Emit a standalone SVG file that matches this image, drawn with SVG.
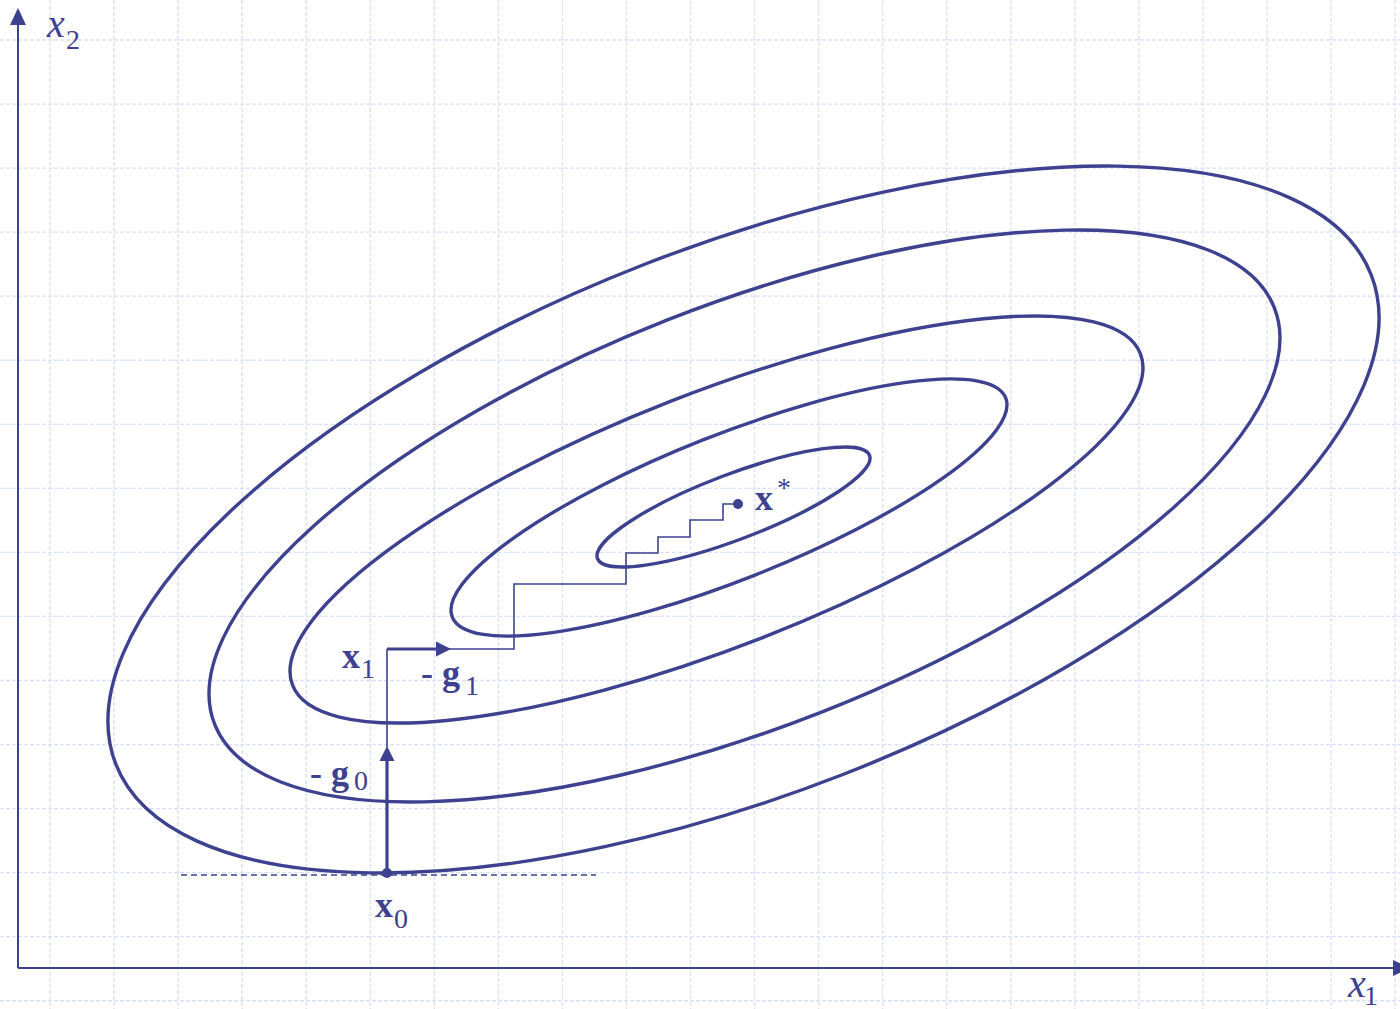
<svg xmlns="http://www.w3.org/2000/svg" width="1400" height="1009" viewBox="0 0 1400 1009">
<defs>
<style>
.grid{stroke:#d9e0f7;stroke-width:1.3;stroke-dasharray:4 2;fill:none}
.axis{stroke:#3d418f;stroke-width:2;fill:none}
.contour{stroke:#3d418f;stroke-width:3.4;fill:none}
.thin{stroke:#3d418f;stroke-width:1.6;fill:none}
.thick{stroke:#3d418f;stroke-width:3.2;fill:none}
.dash{stroke:#3d418f;stroke-width:1.5;stroke-dasharray:6 4;fill:none}
.head{fill:#3d418f}
text{font-family:'Liberation Serif','Times New Roman',Tinos,serif;fill:#3d418f}
.it{font-style:italic;font-size:40px}
.bd{font-weight:bold;font-size:36px}
.sub{font-size:28px}
</style>
</defs>
<rect width="1400" height="1009" fill="#ffffff"/>
<g id="grid">
<path class="grid" d="M50 0V1009M114.05 0V1009M178.1 0V1009M242.15 0V1009M306.2 0V1009M370.25 0V1009M434.3 0V1009M498.35 0V1009M562.4 0V1009M626.45 0V1009M690.5 0V1009M754.55 0V1009M818.6 0V1009M882.65 0V1009M946.7 0V1009M1010.75 0V1009M1074.8 0V1009M1138.85 0V1009M1202.9 0V1009M1266.95 0V1009M1331 0V1009M1395.05 0V1009"/>
<path class="grid" d="M0 40H1400M0 104.05H1400M0 168.1H1400M0 232.15H1400M0 296.2H1400M0 360.25H1400M0 424.3H1400M0 488.35H1400M0 552.4H1400M0 616.45H1400M0 680.5H1400M0 744.55H1400M0 808.6H1400M0 872.65H1400M0 936.7H1400M0 1000.75H1400"/>
</g>
<g id="axes">
<path class="axis" d="M18 968V22M18 968H1396"/>
<polygon class="head" points="18,8 10,25 26,25"/>
<polygon class="head" points="1410,968 1393,960 1393,976"/>
<text class="it" font-family="Liberation Serif" x="47" y="37">x</text><text class="sub" font-family="Liberation Serif" x="66" y="49">2</text>
<text class="it" font-family="Liberation Serif" x="1348" y="997">x</text><text class="sub" font-family="Liberation Serif" x="1364" y="1005">1</text>
</g>
<g id="contours">
<ellipse id="c1" class="contour" cx="743.5" cy="519.5" rx="673.7" ry="273.7" transform="rotate(-21.3 743.5 519.5)"/>
<ellipse id="c2" class="contour" cx="744.5" cy="516" rx="569.3" ry="210.7" transform="rotate(-21.45 744.5 516)"/>
<ellipse id="c3" class="contour" cx="716.5" cy="519.5" rx="455.2" ry="126.8" transform="rotate(-21.35 716.5 519.5)"/>
<ellipse id="c4" class="contour" cx="729" cy="507.5" rx="297.6" ry="72.4" transform="rotate(-21.6 729 507.5)"/>
<ellipse id="c5" class="contour" cx="733.5" cy="507" rx="145.5" ry="32.6" transform="rotate(-20.8 733.5 507)"/>
</g>
<path id="tangent" class="dash" d="M181 875H596"/>
<g id="connectors">
<path class="thin" d="M387 747V649M435 649H514V584H626V553H658V537H690V520H723V504H738"/>
<path class="thick" d="M387 873V760"/>
<polygon class="head" points="387,746 379.5,761 394.5,761"/>
<path class="thick" d="M387 649H437"/>
<polygon class="head" points="451,649 436,641.5 436,656.5"/>
</g>
<g id="x0">
<circle class="head" cx="387" cy="873" r="5"/>
<text class="bd" font-family="Liberation Serif" x="375" y="917">x</text><text class="sub" font-family="Liberation Serif" x="394" y="928">0</text>
</g>
<g id="g0">
<text class="bd" font-family="Liberation Serif" x="310" y="785">- g</text><text class="sub" font-family="Liberation Serif" x="354" y="790">0</text>
</g>
<g id="x1">
<text class="bd" font-family="Liberation Serif" x="342" y="668">x</text><text class="sub" font-family="Liberation Serif" x="361" y="678">1</text>
</g>
<g id="g1">
<text class="bd" font-family="Liberation Serif" x="421" y="685">- g</text><text class="sub" font-family="Liberation Serif" x="465" y="695">1</text>
</g>
<g id="xstar">
<circle class="head" cx="738" cy="504" r="5"/>
<text class="bd" font-family="Liberation Serif" x="755" y="510">x</text><text class="sub" font-family="Liberation Serif" x="777" y="497">*</text>
</g>
</svg>
